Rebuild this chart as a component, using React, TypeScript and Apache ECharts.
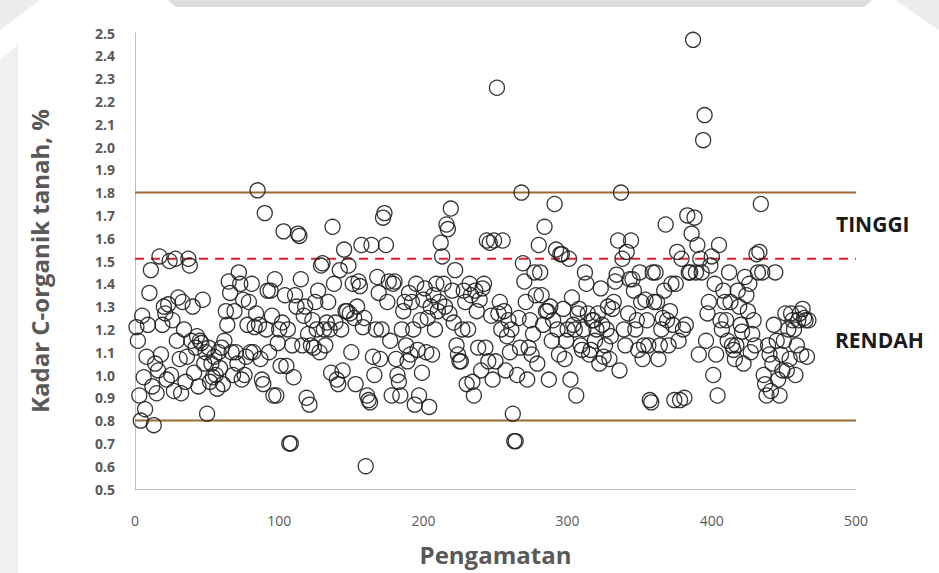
import React, { useEffect, useRef } from "react";
import * as echarts from "echarts";

// Kadar C-organik tanah (%) per pengamatan (observation 1..467)
const kadar: number[] = [
  1.21,1.15,0.91,0.80,1.26,0.99,0.85,1.08,1.22,1.36,1.46,0.95,0.78,1.05,0.92,1.02,1.52,1.09,1.22,1.30,
  1.27,0.98,1.31,1.50,1.00,1.24,0.93,1.51,1.15,1.34,1.07,0.92,1.32,1.20,0.97,1.08,1.51,1.48,1.15,1.30,
  1.01,1.12,1.17,0.95,1.15,1.14,1.33,1.05,1.10,0.83,1.12,0.97,1.05,0.99,1.08,1.00,0.94,1.10,1.03,1.12,
  0.96,1.15,1.28,1.22,1.41,1.36,1.10,1.00,1.28,1.10,1.05,1.45,1.40,0.98,1.33,1.00,1.08,1.22,1.32,1.10,
  1.40,1.10,1.21,1.27,1.81,1.22,1.07,0.98,0.96,1.71,1.20,1.37,1.10,1.37,1.26,0.91,1.42,0.91,1.14,1.20,
  1.04,1.23,1.63,1.35,1.04,1.20,0.70,0.70,1.13,0.99,1.35,1.30,1.62,1.61,1.42,1.13,1.26,1.30,0.90,1.18,
  0.87,1.13,1.24,1.12,1.32,1.20,1.37,1.10,1.48,1.49,1.20,1.13,1.23,1.32,1.20,1.01,1.65,1.40,1.23,0.98,
  0.96,1.46,1.20,1.02,1.55,1.28,1.28,1.48,1.27,1.10,1.40,1.25,0.96,1.30,1.41,1.39,1.57,1.21,1.25,0.60,
  0.91,0.89,0.88,1.57,1.08,1.00,1.20,1.43,1.36,1.07,1.20,1.69,1.71,1.57,1.32,1.41,1.15,0.91,1.40,1.41,
  1.07,1.00,0.97,0.91,1.20,1.28,1.32,1.13,1.06,1.36,1.09,1.32,1.20,0.87,1.40,1.11,0.91,1.24,1.01,1.33,
  1.38,1.10,1.25,0.86,1.30,1.09,1.35,1.20,1.40,1.28,1.32,1.58,1.52,1.40,1.30,1.66,1.64,1.27,1.73,1.37,
  1.23,1.46,1.13,1.09,1.06,1.06,1.20,1.37,1.32,0.96,1.20,1.40,1.35,0.97,0.91,1.37,1.28,1.12,1.33,1.02,
  1.38,1.40,1.12,1.59,1.06,1.58,1.26,0.98,1.59,1.06,2.26,1.27,1.32,1.20,1.59,1.28,1.02,1.17,1.24,1.10,
  1.20,0.83,0.71,0.71,1.00,1.25,1.12,1.80,1.49,1.41,1.32,0.98,1.12,1.24,1.09,1.18,1.45,1.35,1.05,1.57,
  1.45,1.35,1.22,1.65,1.28,1.28,0.98,1.30,1.15,1.24,1.75,1.55,1.20,1.09,1.53,1.53,1.29,1.07,1.15,1.20,
  1.51,0.98,1.34,1.22,1.20,0.91,1.27,1.29,1.13,1.11,1.20,1.45,1.40,1.27,1.09,1.11,1.24,1.24,1.15,1.20,
  1.27,1.05,1.38,1.22,1.08,1.13,1.20,1.30,1.07,1.17,1.29,1.32,1.41,1.44,1.59,1.02,1.80,1.51,1.20,1.13,
  1.54,1.27,1.42,1.59,1.42,1.37,1.20,1.24,1.11,1.45,1.32,1.07,1.13,1.33,1.24,1.13,0.89,0.88,1.45,1.32,
  1.45,1.32,1.07,1.13,1.20,1.25,1.37,1.66,1.24,1.13,1.28,1.40,1.22,0.89,1.40,1.54,1.15,0.89,1.51,1.20,
  0.90,1.22,1.70,1.45,1.45,1.62,2.47,1.69,1.45,1.57,
  1.09,1.51,1.45,2.03,2.14,1.15,1.27,1.32,1.48,1.52,1.00,1.40,1.09,0.91,1.57,1.24,1.20,1.37,1.32,1.24,
  1.15,1.45,1.32,1.13,1.11,1.07,1.13,1.37,1.30,1.22,1.19,1.05,1.43,1.35,1.28,1.40,1.10,1.18,1.24,1.13,
  1.53,1.45,1.54,1.75,1.45,1.00,0.96,0.91,1.13,1.09,0.93,1.05,1.22,1.45,1.15,0.98,0.91,1.09,1.02,1.15,
  1.27,1.02,1.20,1.07,1.27,1.24,1.20,1.00,1.13,1.24,1.27,1.09,1.29,1.25,1.24,1.08,1.24
];

const batasTinggi = 1.8;
const batasRendah = 0.8;
const rataRata = 1.51;
const xRange = [0, 500];

const FONT = "'Open Sans', 'Noto Sans', sans-serif";

export default function App() {
  const ref = useRef<HTMLDivElement>(null);
  useEffect(() => {
    if (!ref.current) return;
    const chart = echarts.init(ref.current, undefined, { renderer: "svg" });
    const points = kadar.map((v, i) => [i + 1, v]);
    chart.setOption({
      animation: false,
      backgroundColor: "#ffffff",
      grid: { left: 135, right: 83, top: 33, bottom: 84, containLabel: false },
      xAxis: {
        type: "value",
        min: 0,
        max: 500,
        interval: 100,
        name: "Pengamatan",
        nameLocation: "middle",
        nameGap: 53,
        nameTextStyle: { fontFamily: FONT, fontSize: 24, fontWeight: "bold", color: "#595959" },
        axisLine: { show: true, lineStyle: { color: "#bfbfbf", width: 1 } },
        axisTick: { show: false },
        splitLine: { show: false },
        axisLabel: { margin: 24, fontFamily: FONT, fontSize: 14, color: "#595959" },
      },
      yAxis: {
        type: "value",
        min: 0.5,
        max: 2.5,
        interval: 0.1,
        name: "Kadar C-organik tanah, %",
        nameLocation: "middle",
        nameGap: 84,
        nameTextStyle: { fontFamily: FONT, fontSize: 24, fontWeight: "bold", color: "#595959" },
        axisLine: { show: true, lineStyle: { color: "#bfbfbf", width: 1 } },
        axisTick: { show: false },
        splitLine: { show: false },
        axisLabel: {
          margin: 20,
          fontFamily: FONT,
          fontSize: 14,
          fontWeight: "bold",
          color: "#595959",
          formatter: (v: number) => v.toFixed(1),
        },
      },
      graphic: [
        {
          type: "polygon",
          silent: true,
          z: -10,
          shape: { points: [[168, 0], [872, 0], [864, 7], [176, 7]] },
          style: { fill: "#dcdcdc" },
        },
        {
          type: "polygon",
          silent: true,
          z: -10,
          shape: { points: [[0, 0], [40, 0], [0, 30]] },
          style: { fill: "#ececec" },
        },
        {
          type: "polygon",
          silent: true,
          z: -10,
          shape: { points: [[0, 60], [18, 45], [18, 573], [0, 573]] },
          style: { fill: "#f0f0f0" },
        },
        {
          type: "polygon",
          silent: true,
          z: -10,
          shape: { points: [[895, 0], [939, 0], [939, 30]] },
          style: { fill: "#ececec" },
        },
        {
          type: "text",
          left: 836,
          top: 213,
          style: {
            text: "TINGGI",
            fontFamily: FONT,
            fontSize: 21,
            fontWeight: "bold",
            fill: "#1a1a1a",
          },
        },
        {
          type: "text",
          left: 835,
          top: 329,
          style: {
            text: "RENDAH",
            fontFamily: FONT,
            fontSize: 21,
            fontWeight: "bold",
            fill: "#1a1a1a",
          },
        },
      ],
      series: [
        {
          type: "line",
          data: [[xRange[0], batasTinggi], [xRange[1], batasTinggi]],
          symbol: "none",
          lineStyle: { color: "#9c6a2e", width: 2 },
          z: 1,
        },
        {
          type: "line",
          data: [[xRange[0], batasRendah], [xRange[1], batasRendah]],
          symbol: "none",
          lineStyle: { color: "#9c6a2e", width: 2 },
          z: 1,
        },
        {
          type: "line",
          data: [[xRange[0], rataRata], [xRange[1], rataRata]],
          symbol: "none",
          lineStyle: { color: "#e0202a", width: 2, type: [9, 7] },
          z: 1,
        },
        {
          type: "scatter",
          data: points,
          symbol: "circle",
          symbolSize: 15,
          itemStyle: { color: "rgba(255,255,255,0)", borderColor: "#1f1f1f", borderWidth: 1.3, opacity: 0.9 },
          z: 2,
        },
      ],
    });
    return () => chart.dispose();
  }, []);
  return <div ref={ref} style={{ position: "fixed", left: 0, top: 0, width: 939, height: 573 }} />;
}
